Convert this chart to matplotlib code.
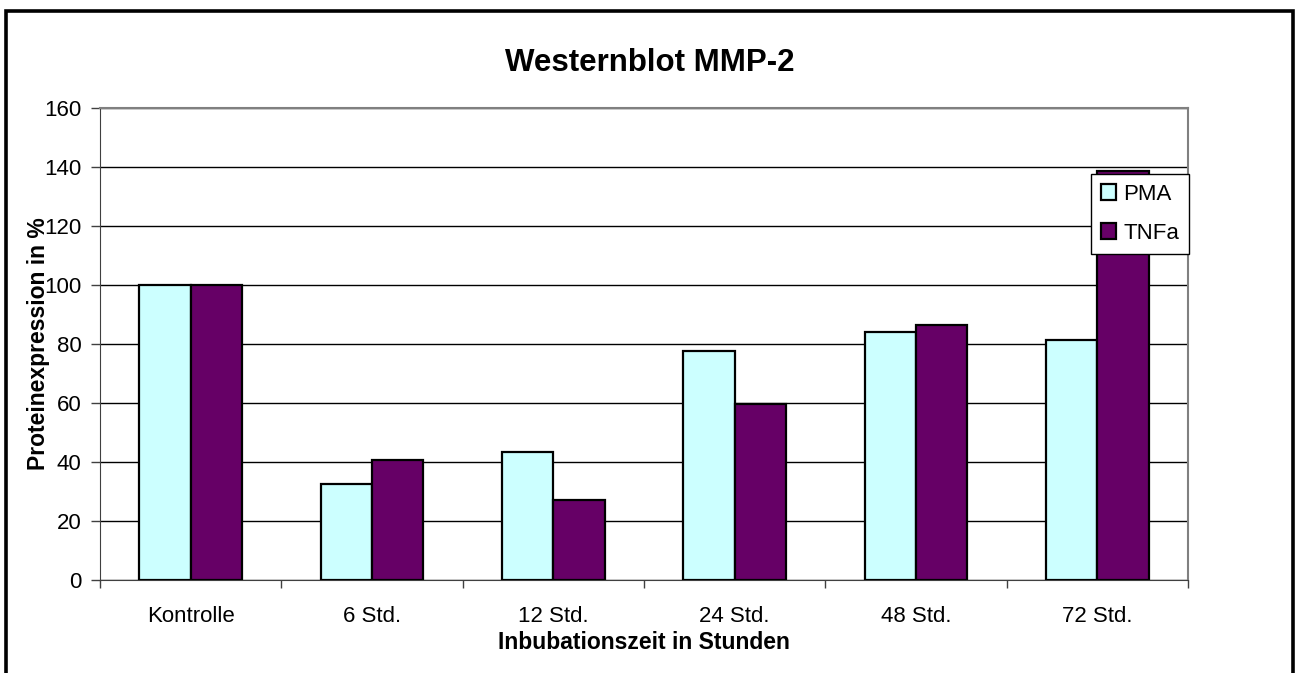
##############################################################################################
# Westernblot MMP-2 bar chart (Excel style)
import matplotlib
matplotlib.use('Agg')
import matplotlib.pyplot as plt
import matplotlib.patches as patches
import numpy as np

plt.rcParams['font.family'] = ['Liberation Sans', 'DejaVu Sans']

categories = ['Kontrolle', '6 Std.', '12 Std.', '24 Std.', '48 Std.', '72 Std.']
pma = [100, 32.6, 43.5, 77.5, 84.1, 81.5]
tnfa = [100, 40.8, 27.2, 59.7, 86.3, 138.6]
series_names = ['PMA', 'TNFa']
y_ticks = [0, 20, 40, 60, 80, 100, 120, 140, 160]

###########################################################################################
# Figure and plot area placed like the original
fig = plt.figure(figsize=(12.96, 6.73), dpi=100)
W, H = 1296.0, 673.0
ax = fig.add_axes([100 / W, 1 - 580 / H, 1088 / W, 472 / H])

x = np.arange(len(categories))
bw = 0.284
ax.bar(x - bw / 2, pma, bw, color='#CCFFFF', edgecolor='black', linewidth=1.6,
       label=series_names[0], zorder=3)
ax.bar(x + bw / 2, tnfa, bw, color='#660066', edgecolor='black', linewidth=1.6,
       label=series_names[1], zorder=3)

ax.set_xlim(-0.5, len(categories) - 0.5)
ax.set_ylim(0, 160)
ax.set_yticks(y_ticks)
ax.yaxis.grid(True, color='black', linewidth=1.0, zorder=0)
ax.set_axisbelow(True)

# category labels at centers, tick marks between the categories
ax.set_xticks(x)
ax.set_xticklabels(categories, fontsize=16)
ax.tick_params(axis='x', which='major', length=0, pad=19)
ax.set_xticks(np.arange(len(categories) + 1) - 0.5, minor=True)
ax.tick_params(axis='x', which='minor', length=6, width=1, direction='out', color='#404040')
ax.tick_params(axis='y', length=6.5, width=1, direction='out', pad=7, labelsize=16,
               color='#404040')

# spines: gray plot area border, dark axis lines
ax.spines['top'].set_color('#808080')
ax.spines['right'].set_color('#808080')
ax.spines['top'].set_linewidth(1.5)
ax.spines['right'].set_linewidth(1.5)
ax.spines['left'].set_color('#404040')
ax.spines['bottom'].set_color('#404040')
ax.spines['top'].set_zorder(4)

ax.set_xlabel('Inbubationszeit in Stunden', fontsize=16.5, fontweight='bold')
ax.xaxis.set_label_coords(0.5, -0.108)
ax.set_ylabel('Proteinexpression in %', fontsize=16.5, fontweight='bold')
ax.yaxis.set_label_coords(-0.0455, 0.5)

fig.text(650 / W, 1 - 63 / H, 'Westernblot MMP-2', fontsize=22.5, fontweight='bold',
         ha='center', va='center')

leg = ax.legend(loc='upper right', bbox_to_anchor=(1189 / W, 1 - 174 / H),
                bbox_transform=fig.transFigure, fontsize=16, frameon=True,
                fancybox=False, framealpha=1, handlelength=0.7, handleheight=0.7,
                handletextpad=0.3, borderpad=0.45, labelspacing=0.8,
                borderaxespad=0)
leg.get_frame().set_edgecolor('black')
leg.get_frame().set_linewidth(1.0)
leg.set_zorder(10)

# black border round the whole chart (open at the bottom)
border = patches.Rectangle((5.5 / W, -0.1), 1287 / W, 1.1 - 11.5 / H,
                           transform=fig.transFigure, fill=False,
                           edgecolor='black', linewidth=2.6, clip_on=False)
fig.add_artist(border)

plt.savefig('out.png', dpi=100)
plt.close()
